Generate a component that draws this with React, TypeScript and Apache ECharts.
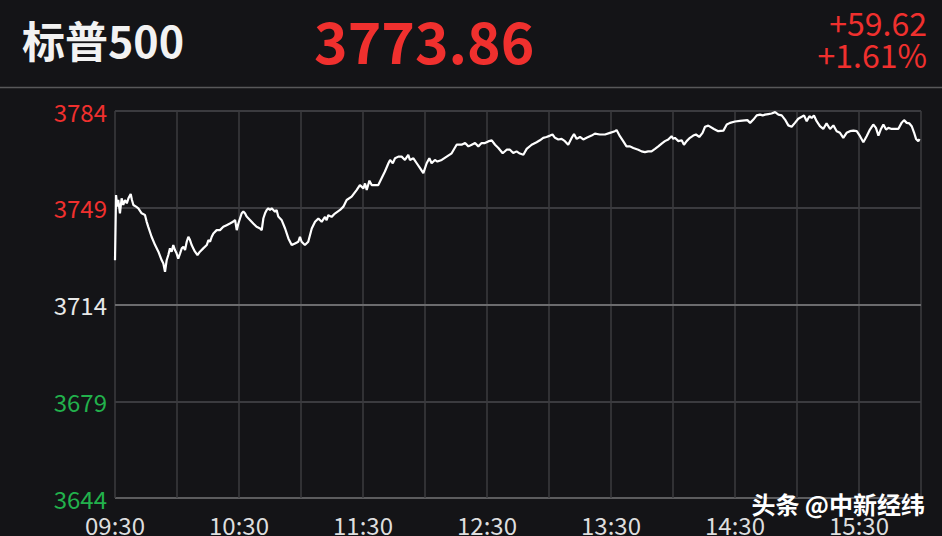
import React, { useEffect, useRef } from "react";
import * as echarts from "echarts";

// minutes since 09:30
const minutes = [
  0, 0.5, 1.1, 1.6, 2.4, 3.2, 4.0, 4.8, 5.7, 6.5, 7.6, 8.2, 8.9, 10.2, 11.3, 12.9, 14.5, 15.3, 16.1, 17.7,
  19.4, 21.0, 22.6, 23.4, 24.2, 25.0, 25.8, 26.6, 27.4, 28.2, 29.0, 29.8, 30.6, 31.5, 32.3, 33.1, 33.9, 34.7, 35.5, 36.3,
  37.1, 37.9, 38.7, 39.9, 41.1, 42.7, 44.4, 45.2, 46.0, 46.8, 47.6, 49.2, 50.8, 52.4, 54.0, 55.6, 57.3, 58.1, 58.9, 59.7,
  61.3, 62.1, 62.9, 63.7, 65.3, 66.9, 68.5, 70.2, 71.0, 71.8, 72.6, 73.4, 74.2, 75.0, 75.8, 76.6, 77.4, 78.2, 79.0, 80.6,
  82.3, 83.9, 85.5, 87.1, 88.7, 89.5, 90.3, 91.9, 93.5,
  95.2, 96.8, 98.4, 100.0, 101.6, 102.4, 103.2, 104.8, 106.4, 108.9, 110.5, 112.1, 114.5, 116.9, 118.5, 120.2, 121.0, 121.8,
  123.1, 124.2, 125.8, 127.4, 129.0, 130.6, 132.3, 133.1, 134.4, 135.5, 137.1, 138.7, 140.3, 141.9, 142.7, 144.4, 146.0,
  147.6, 149.2, 150.8, 152.1, 153.2, 154.8, 156.0, 158.1, 160.5, 162.9, 165.3, 167.7, 169.4, 171.0, 172.6, 174.2, 175.8,
  177.4, 179.0, 180.6, 182.3, 183.9, 185.5, 187.6, 189.5,
  191.1, 192.7, 194.3, 195.9, 197.6, 199.2, 201.6, 204.0, 205.6, 207.2, 208.8, 210.5, 211.7, 212.9, 214.5, 216.1, 217.7,
  219.3, 221.0, 222.1, 223.4, 225.0, 226.6, 228.2, 230.6, 232.2, 234.6, 237.1, 239.5, 241.9, 242.7, 244.3, 245.9, 247.5,
  249.2, 250.8, 253.2, 254.8, 256.4, 258.0, 259.6, 261.3, 262.9, 264.5, 266.1, 267.7, 269.3, 270.1, 270.9, 272.6, 274.2,
  275.3, 276.6, 278.2, 279.8, 281.1, 282.7, 284.3, 285.5, 287.1,
  289.8, 291.9, 294.4, 296.0, 297.6, 300.0, 302.4, 304.8, 306.0, 307.3, 308.9, 310.5, 312.1, 313.4, 314.5, 316.1, 317.7,
  319.4, 321.0, 322.6, 324.2, 325.8, 327.4, 329.0, 330.6, 332.3, 333.4, 334.7, 336.0, 337.1, 338.2, 339.5, 341.1, 342.7,
  344.3, 346.0, 347.6, 349.2, 350.8, 352.4, 354.0, 355.6, 357.3, 358.9, 360.5, 362.1, 363.7, 365.3, 366.9, 368.2, 369.4,
  370.5, 371.8, 373.1, 374.2, 375.8, 377.4, 379.0, 380.6, 381.8, 383.1, 384.4, 385.5, 386.6, 387.6, 388.7, 389.3,
];

const prices = [
  3730.0, 3753.6, 3749.4, 3751.8, 3747.0, 3752.4, 3750.0, 3751.8, 3750.6, 3752.4, 3754.0, 3751.8, 3750.0, 3749.4, 3748.8, 3747.0, 3746.4, 3744.0, 3742.1, 3738.5,
  3735.5, 3733.1, 3730.0, 3728.8, 3725.8, 3730.0, 3731.9, 3734.3, 3733.1, 3735.5, 3733.7, 3732.5, 3730.6, 3732.5, 3734.3, 3734.9, 3733.7, 3736.7, 3738.5, 3737.3,
  3735.5, 3734.3, 3733.1, 3731.9, 3733.1, 3734.3, 3735.5, 3737.3, 3736.7, 3738.5, 3739.7, 3740.9, 3740.9, 3742.1, 3742.7, 3743.3, 3744.0, 3744.6, 3740.9, 3743.3,
  3747.0, 3747.6, 3747.0, 3745.8, 3744.6, 3743.3, 3742.1, 3741.5, 3740.9, 3745.2, 3747.0, 3748.2, 3748.8, 3748.2, 3748.8, 3748.2, 3747.6, 3748.2, 3745.8, 3744.6,
  3741.5, 3737.9, 3735.5, 3736.1, 3736.7, 3738.5, 3736.7, 3735.5, 3736.7,
  3741.5, 3743.9, 3745.1, 3743.9, 3745.7, 3744.5, 3746.3, 3745.7, 3746.9, 3748.2, 3749.4, 3751.8, 3753.0, 3755.4, 3757.2, 3756.0, 3757.8, 3755.4,
  3758.8, 3757.2, 3757.2, 3757.2, 3759.7, 3762.1, 3765.1, 3766.3, 3765.1, 3766.9, 3767.5, 3767.5, 3766.3, 3768.1, 3766.3, 3766.9, 3765.1,
  3763.3, 3761.5, 3765.1, 3766.9, 3765.1, 3766.3, 3765.7, 3766.3, 3767.5, 3768.7, 3771.8, 3771.8, 3772.4, 3771.2, 3771.8, 3772.4, 3771.2,
  3772.4, 3772.4, 3773.0, 3773.4, 3771.8, 3770.6, 3768.7, 3770.0,
  3770.0, 3768.8, 3769.4, 3768.6, 3768.2, 3770.3, 3771.8, 3772.7, 3773.4, 3774.3, 3774.6, 3775.1, 3775.5, 3774.3, 3773.7, 3773.9, 3773.1,
  3771.8, 3774.3, 3775.7, 3773.9, 3774.6, 3773.7, 3774.3, 3775.1, 3775.8, 3775.5, 3775.5, 3776.1, 3776.7, 3777.1, 3774.9, 3773.1, 3771.2,
  3771.2, 3770.6, 3770.0, 3769.4, 3769.1, 3769.4, 3769.4, 3770.3, 3771.2, 3772.2, 3773.1, 3773.7, 3774.9, 3773.9, 3774.3, 3773.1, 3773.4,
  3771.8, 3773.1, 3774.3, 3775.1, 3775.5, 3774.6, 3776.1, 3778.3, 3778.7,
  3777.5, 3776.7, 3776.9, 3779.1, 3779.7, 3780.2, 3780.4, 3780.6, 3780.7, 3779.7, 3780.9, 3782.4, 3782.7, 3782.4, 3782.7, 3782.9, 3783.1,
  3783.6, 3782.7, 3782.4, 3780.9, 3778.8, 3778.3, 3779.7, 3781.2, 3781.9, 3782.4, 3780.3, 3782.1, 3781.5, 3782.4, 3780.3, 3778.5, 3777.5,
  3779.5, 3777.5, 3778.8, 3776.7, 3776.1, 3774.3, 3776.1, 3776.7, 3776.9, 3776.7, 3774.9, 3772.7, 3774.9, 3777.3, 3779.1, 3777.9, 3775.1,
  3777.3, 3779.1, 3777.3, 3777.9, 3777.5, 3777.5, 3777.5, 3779.7, 3780.7, 3779.7, 3779.5, 3778.5, 3776.3, 3773.9, 3773.1, 3773.86,
];

const timeLabels = ["09:30", "10:30", "11:30", "12:30", "13:30", "14:30", "15:30"];
const priceLabels = ["3644", "3679", "3714", "3749", "3784"];
const priceLabelColors = ["#22b14c", "#22b14c", "#e8e8e8", "#f0302e", "#f0302e"];

const indexName = "标普500";
const lastPrice = "3773.86";
const change = "+59.62";
const changePct = "+1.61%";
const prevCloseBase = 3714;
const watermark = "头条 @中新经纬";

const FONT = "'Noto Sans CJK SC', 'Noto Sans', sans-serif";

export default function App() {
  const ref = useRef<HTMLDivElement>(null);
  useEffect(() => {
    if (!ref.current) return;
    const chart = echarts.init(ref.current, null, { renderer: "svg" });
    const data = minutes.map((m, i) => [m, prices[i] - prevCloseBase]);
    chart.setOption({
      animation: false,
      backgroundColor: "#141417",
      grid: { left: 115, top: 111, width: 806, height: 388 },
      xAxis: {
        type: "value",
        min: 0,
        max: 390,
        interval: 30,
        axisLine: { show: false },
        axisTick: { show: false },
        splitLine: { show: true, lineStyle: { color: "#3b3b3f", width: 1.5 } },
        axisLabel: {
          showMinLabel: true,
          showMaxLabel: true,
          margin: 14,
          fontSize: 24,
          fontFamily: FONT,
          color: "#dedede",
          formatter: (v: number) => (v % 60 === 0 ? timeLabels[v / 60] || "" : ""),
        },
      },
      yAxis: {
        type: "value",
        min: -70,
        max: 70,
        interval: 35,
        axisLine: { show: false },
        axisTick: { show: false },
        splitLine: {
          show: true,
          lineStyle: { color: ["#5c5c5e", "#3b3b3f", "#3b3b3f", "#3b3b3f", "#3b3b3f"], width: 2 },
        },
        axisLabel: {
          showMinLabel: true,
          showMaxLabel: true,
          margin: 8,
          fontSize: 24,
          fontFamily: FONT,
          color: (v: any) => priceLabelColors[Math.round((Number(v) + 70) / 35)] || "#e8e8e8",
          formatter: (v: number) => priceLabels[Math.round((v + 70) / 35)] || "",
        },
      },
      series: [
        {
          type: "line",
          data,
          showSymbol: false,
          symbol: "none",
          lineStyle: { color: "#ffffff", width: 2.2 },
          markLine: {
            silent: true,
            symbol: "none",
            label: { show: false },
            lineStyle: { color: "#6c6c6e", width: 2, type: "solid" },
            data: [{ yAxis: 0 }],
          },
          z: 5,
        },
      ],
      graphic: [
        {
          type: "line",
          shape: { x1: 0, y1: 87.5, x2: 942, y2: 87.5 },
          style: { stroke: "#58585a", lineWidth: 1.5 },
        },
        {
          type: "text",
          left: 22,
          top: 17,
          style: { text: indexName, fill: "#f2f2f2", font: `bold 43px ${FONT}` },
        },
        {
          type: "text",
          left: 314,
          top: 10,
          style: { text: lastPrice, fill: "#f0302e", font: `bold 57px ${FONT}` },
        },
        {
          type: "text",
          right: 15,
          top: 6,
          style: { text: change, fill: "#f0302e", font: `32px ${FONT}`, align: "right" },
        },
        {
          type: "text",
          right: 15,
          top: 38,
          style: { text: changePct, fill: "#f0302e", font: `32px ${FONT}`, align: "right" },
        },
        {
          type: "text",
          right: 17,
          top: 491,
          z: 100,
          style: {
            text: watermark,
            fill: "#ffffff",
            font: `bold 24px ${FONT}`,
            shadowColor: "rgba(0,0,0,0.8)",
            shadowBlur: 4,
          },
        },
      ],
    });
    return () => chart.dispose();
  }, []);
  return <div ref={ref} style={{ width: 942, height: 536, position: "fixed", left: 0, top: 0 }} />;
}
